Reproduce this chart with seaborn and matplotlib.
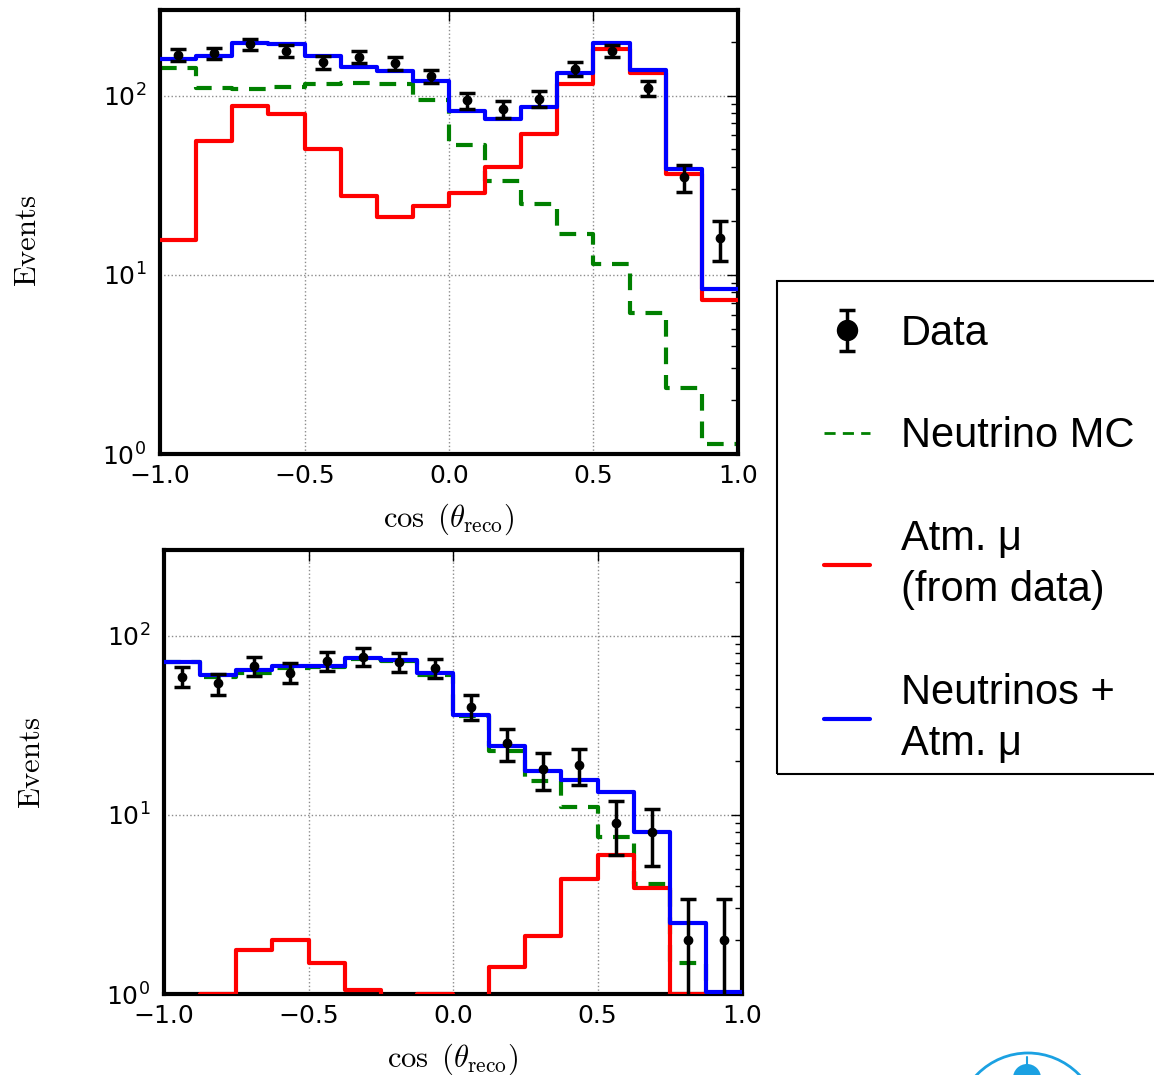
import numpy as np
import pandas as pd
import seaborn as sns
import matplotlib.pyplot as plt
from matplotlib.lines import Line2D
from matplotlib.patches import Ellipse, Rectangle

# 16 bins in cos(theta_reco)
bin_edges = np.linspace(-1.0, 1.0, 17)
bin_centers = 0.5 * (bin_edges[:-1] + bin_edges[1:])

# upper panel
top_data = [169, 172, 194, 177, 153, 165, 151, 128, 94, 84, 96, 141, 178, 110, 35, 16]
top_err = [13.0, 13.1, 13.9, 13.3, 12.4, 12.8, 12.3, 11.3, 9.7, 9.2, 9.8, 11.9, 13.3, 10.5, 5.9, 4.0]
top_nu = [143, 110, 109, 111, 116, 117, 116, 95, 53, 33.5, 24.8, 16.9, 11.5, 6.1, 2.33, 1.14]
top_mu = [15.7, 55.6, 86.9, 79, 50, 27.6, 21, 24.3, 28.5, 39.8, 61, 116, 182, 133, 36.5, 7.2]
top_total = [160, 166, 196, 193, 166, 145, 137, 121, 82, 74, 86, 134, 196, 139, 39, 8.3]

# lower panel
bot_data = [59, 54, 68, 62, 72, 76, 71, 66, 40, 25, 18, 19, 9, 8, 2, 2]
bot_err = [7.7, 7.3, 8.2, 7.9, 8.5, 8.7, 8.4, 8.1, 6.3, 5.0, 4.2, 4.4, 3.0, 2.8, 1.4, 1.4]
bot_nu = [71, 59, 62, 66, 66.5, 73.5, 72, 60.5, 35.5, 22.7, 15.4, 11.1, 7.5, 4.1, 1.49, 0.52]
bot_mu = [0.3, 1.0, 1.77, 1.99, 1.49, 1.05, 0.3, 1.0, 0.3, 1.41, 2.12, 4.4, 5.94, 3.92, 1.0, 0.5]
bot_total = [71.4, 60, 64, 68, 68, 74.6, 73, 61.5, 36, 24.1, 17.6, 15.7, 13.4, 8.0, 2.49, 1.02]

sns.set_style("white")
plt.rcParams["font.family"] = ["DejaVu Sans"]
plt.rcParams.update({"text.color": "k", "axes.labelcolor": "k",
                     "xtick.color": "k", "ytick.color": "k"})

W, H = 1154, 1075
fig = plt.figure(figsize=(W / 100, H / 100), dpi=100)
ax_top = fig.add_axes([160 / W, 1 - 454 / H, 578 / W, 444 / H])
ax_bot = fig.add_axes([164 / W, 1 - 994 / H, 578 / W, 444 / H])


def step_hist(ax, values, **kws):
    df = pd.DataFrame({"cos": bin_centers, "n": values})
    sns.histplot(data=df, x="cos", weights="n", bins=list(bin_edges), element="step",
                 fill=False, linewidth=3, ax=ax, **kws)


def draw_panel(ax, nu, mu, total, data, err, ylab_y):
    step_hist(ax, nu, color="g", linestyle="--", dashes=(4, 2.6), zorder=2)
    step_hist(ax, mu, color="r", zorder=3)
    step_hist(ax, total, color="b", zorder=4)
    eb = ax.errorbar(bin_centers, data, yerr=err, fmt="o", color="k", ms=6,
                     elinewidth=2.5, capsize=6, capthick=2.5, zorder=5)

    ax.set_yscale("log")
    ax.set_ylim(1, 300)
    ax.set_xlim(-1, 1)
    ax.set_xticks([-1.0, -0.5, 0.0, 0.5, 1.0])
    ax.grid(True, which="major", color="0.55", linestyle=":", linewidth=1)
    ax.set_axisbelow(True)
    ax.tick_params(which="both", direction="in", top=True, right=True,
                   labelsize=18, color="k")
    ax.tick_params(which="major", length=8, width=1)
    ax.tick_params(which="minor", length=5, width=1)
    ax.tick_params(axis="x", pad=7)
    ax.tick_params(axis="y", pad=10)
    for sp in ax.spines.values():
        sp.set_visible(True)
        sp.set_linewidth(3)
        sp.set_color("k")

    ax.set_xlabel(r"$\cos\ (\theta_{\rm reco})$", fontsize=22, math_fontfamily="cm")
    ax.xaxis.set_label_coords(0.5, -0.107)
    ax.set_ylabel(r"$\mathrm{Events}$", fontsize=22, math_fontfamily="cm")
    ax.yaxis.set_label_coords(-0.204, ylab_y)
    return eb


eb = draw_panel(ax_top, top_nu, top_mu, top_total, top_data, top_err, 0.48)
draw_panel(ax_bot, bot_nu, bot_mu, bot_total, bot_data, bot_err, 0.52)

handles = [
    eb,
    Line2D([], [], color="g", lw=2, linestyle="--", dashes=(4, 2.6)),
    Line2D([], [], color="r", lw=3),
    Line2D([], [], color="b", lw=3),
]
labels = ["Data", "Neutrino MC", "Atm. μ\n(from data)", "Neutrinos +\nAtm. μ"]
leg = fig.legend(handles, labels, loc="upper left",
                 bbox_to_anchor=(824 / W, 1 - 314 / H), bbox_transform=fig.transFigure,
                 borderaxespad=0, borderpad=0, frameon=False,
                 prop={"family": "Liberation Sans", "size": 30},
                 handlelength=1.1, handletextpad=0.75,
                 labelspacing=1.5, markerscale=2.4)
for t in leg.get_texts():
    t.set_linespacing(1.36)

# legend box runs past the right edge of the figure
fig.add_artist(Rectangle((777 / W, 1 - 774 / H), 420 / W, 493 / H, fill=False,
                         ec="k", lw=1.5, transform=fig.transFigure))

# partial logo in the bottom right corner
logo_c = "#1ba1e2"
fig.add_artist(Ellipse((1028 / W, 1 - 1124 / H), 2 * 71 / W, 2 * 71 / H, fill=False,
                       ec=logo_c, lw=2, transform=fig.transFigure))
fig.add_artist(Ellipse((1027 / W, 1 - 1078 / H), 2 * 14 / W, 2 * 14 / H,
                       fc=logo_c, ec="none", transform=fig.transFigure))
fig.add_artist(Line2D([1027 / W, 1027 / W], [1 - 1057 / H, 1 - 1066 / H],
                      color=logo_c, lw=1.5, transform=fig.transFigure))

fig.savefig("out.png", dpi=100)
